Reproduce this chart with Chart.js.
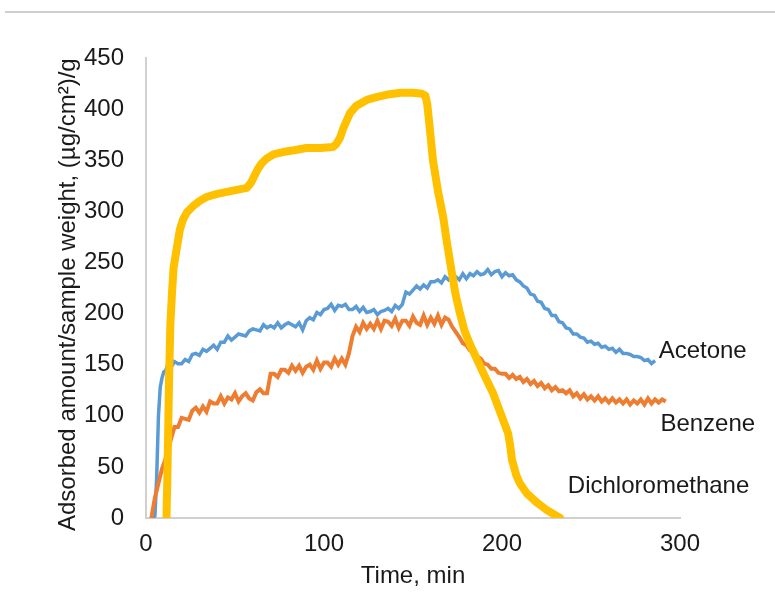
<!DOCTYPE html>
<html>
<head>
<meta charset="utf-8">
<script src="https://cdn.jsdelivr.net/npm/chart.js@4.4.1/dist/chart.umd.min.js"></script>
<style>
	html, body { margin: 0; padding: 0; background: #ffffff; }
	#wrap { width: 775px; height: 606px; }
</style>
</head>
<body>
<div id="wrap"><canvas id="chart"></canvas></div>
<script>
// данные
const acetoneTime = [4,5,6,7,8,9,10,11,12,14,16,18,20,22,24,26,28,30,32,34,36,38,40,42,44,46,48,50,52,54,56,58,60,62,64,66,68,70,72,74,76,78,80,82,84,86,88,90,92,94,96,98,100,102,104,106,108,110,112,114,116,118,120,122,124,126,128,130,132,134,136,138,140,142,144,146,148,150,152,154,156,158,160,162,164,166,168,170,172,174,176,178,180,182,184,186,188,190,192,194,196,198,200,202,204,206,208,210,212,214,216,218,220,222,224,226,228,230,232,234,236,238,240,242,244,246,248,250,252,254,256,258,260,262,264,266,268,270,272,274,276,278,280,282,284,286];
const acetoneValues = [0,2,40,100,128,137,143,144,149,147,153,151,151,155,153,160,161,159,165,163,166,169,165,172,172,178,174,177,180,179,178,183,185,184,183,189,186,188,186,191,186,189,191,189,187,191,184,193,196,194,201,199,204,205,209,203,208,207,209,204,204,207,202,206,201,202,204,199,202,203,205,202,208,205,209,221,219,223,227,224,228,225,231,231,233,230,236,233,236,236,233,239,234,239,237,241,238,239,243,238,241,242,236,240,237,238,233,231,227,225,219,218,212,211,205,204,198,198,192,191,186,185,180,180,177,176,172,173,170,171,167,168,165,166,162,165,161,161,160,158,158,157,154,155,151,154];

const benzeneTime = [3,4,5,6,7,8,9,10,11,12,13,14,15,16,18,20,22,24,26,28,30,32,34,36,38,40,42,44,46,48,50,52,54,56,58,60,62,64,66,68,70,72,74,76,78,80,82,84,86,88,90,92,94,96,98,100,102,104,106,108,110,112,114,116,118,120,122,124,126,128,130,132,134,136,138,140,142,144,146,148,150,152,154,156,158,160,162,164,166,168,170,172,174,176,178,180,182,184,186,188,190,192,194,196,198,200,202,204,206,208,210,212,214,216,218,220,222,224,226,228,230,232,234,236,238,240,242,244,246,248,250,252,254,256,258,260,262,264,266,268,270,272,274,276,278,280,282,284,286,288,290,292];
const benzeneValues = [0,10,20,27,34,41,48,53,58,63,70,77,83,89,89,98,97,96,105,108,103,109,104,114,112,112,119,112,118,116,122,114,119,122,117,115,123,126,122,122,141,141,138,145,145,142,149,144,149,142,148,150,145,154,146,152,152,148,156,150,156,150,161,178,187,182,191,185,190,185,193,185,193,192,188,195,186,193,193,188,197,191,189,198,189,196,190,198,189,196,194,187,182,177,171,169,164,163,158,156,151,150,146,146,142,141,141,137,140,136,138,133,136,131,134,129,132,127,130,125,128,124,125,122,125,119,122,117,121,116,119,115,119,114,117,113,117,113,116,112,116,111,115,112,116,111,117,112,116,113,116,114];

const dcmTime = [11.5,12,12.5,13,13.7,14.6,15.5,17.4,19,20.8,23,26.4,30,34,40,45.5,51,56.7,59,62.4,65,68,72,77,84,90,98,105,107,109,111,114.6,118,124,130,135,143,150,155,157,158,159.5,161.2,164,166.9,169,171.9,174,176.4,179,182,186,190,195,200.6,203.4,204.5,205.6,208,210,214,219.7,225,232.6];
const dcmValues = [0,40,90,140,190,220,245,265,282,292,299,305,310,314,317,319,321,323,328,340,347,352,356,358,360,362,362,363,366,372,382,396,403,409,412,414,416,416,415,413,405,380,350,320,295,270,239,218,200,183,170,155,140,122,96,83,72,57,42,34,24,15,8,0];

const xTicks = [0, 100, 200, 300];
const yTicks = [0, 50, 100, 150, 200, 250, 300, 350, 400, 450];

const seriesNames = ['Acetone', 'Benzene', 'Dichloromethane'];

const textColor = '#1a1a1a';
const fontFamily = '"Liberation Sans", Arial, sans-serif';

function toPoints(times, values) {
	return times.map((t, i) => ({ x: t, y: values[i] }));
}

// подписи рядов справа от линий
const seriesLabels = {
	id: 'seriesLabels',
	afterDatasetsDraw(chart) {
		const { ctx, scales: { x, y } } = chart;
		const spots = [
			{ text: seriesNames[0], x: 288, y: 163 },
			{ text: seriesNames[1], x: 289, y: 92 },
			{ text: seriesNames[2], x: 237, y: 31 },
		];
		ctx.save();
		ctx.fillStyle = textColor;
		ctx.font = '24px ' + fontFamily;
		ctx.textAlign = 'left';
		ctx.textBaseline = 'middle';
		spots.forEach((s) => ctx.fillText(s.text, x.getPixelForValue(s.x), y.getPixelForValue(s.y)));
		ctx.restore();
	},
};

// серая линия страницы сверху
const pageRule = {
	id: 'pageRule',
	beforeDraw(chart) {
		const { ctx } = chart;
		ctx.save();
		ctx.strokeStyle = '#cfcfcf';
		ctx.lineWidth = 2;
		ctx.beginPath();
		ctx.moveTo(5, 12);
		ctx.lineTo(775, 12);
		ctx.stroke();
		ctx.restore();
	},
};

const chartConfig = {
	type: 'line',
	data: {
		datasets: [
			{
				label: seriesNames[2],
				data: toPoints(dcmTime, dcmValues),
				borderColor: '#FFC000',
				borderWidth: 8,
				borderJoinStyle: 'round',
				borderCapStyle: 'round',
			},
			{
				label: seriesNames[1],
				data: toPoints(benzeneTime, benzeneValues),
				borderColor: '#ED7D31',
				borderWidth: 4,
			},
			{
				label: seriesNames[0],
				data: toPoints(acetoneTime, acetoneValues),
				borderColor: '#5B9BD5',
				borderWidth: 3.5,
			},
		],
	},
	options: {
		responsive: true,
		maintainAspectRatio: false,
		animation: false,
		elements: { point: { radius: 0 }, line: { tension: 0 } },
		layout: { padding: { left: 0, right: 95, top: 58, bottom: 0 } },
		plugins: { legend: { display: false }, tooltip: { enabled: false } },
		scales: {
			x: {
				type: 'linear',
				min: 0,
				max: 300,
				afterFit: (s) => { s.height = 88; },
				afterBuildTicks: (s) => { s.ticks = xTicks.map((v) => ({ value: v })); },
				grid: { display: false, drawTicks: false },
				border: { display: true, color: '#d0d0d0', width: 2 },
				ticks: { color: textColor, font: { family: fontFamily, size: 24 }, padding: 12, maxRotation: 0 },
				title: {
					display: true,
					text: 'Time, min',
					color: textColor,
					font: { family: fontFamily, size: 24 },
					padding: { top: 0, bottom: 15 },
				},
			},
			y: {
				min: 0,
				max: 450,
				afterFit: (s) => { s.width = 146; },
				afterBuildTicks: (s) => { s.ticks = yTicks.map((v) => ({ value: v })); },
				grid: { display: false, drawTicks: false },
				border: { display: true, color: '#d0d0d0', width: 2 },
				ticks: { color: textColor, font: { family: fontFamily, size: 24 }, padding: 22 },
				title: {
					display: true,
					// два неразрывных пробела в конце чуть сдвигают подпись вниз
					text: 'Adsorbed amount/sample weight, (µg/cm²)/g\u00a0\u00a0',
					color: textColor,
					font: { family: fontFamily, size: 24 },
					padding: { top: 54, bottom: 0 },
				},
			},
		},
	},
	plugins: [pageRule, seriesLabels],
};

new Chart(document.getElementById('chart'), chartConfig);
</script>
</body>
</html>
